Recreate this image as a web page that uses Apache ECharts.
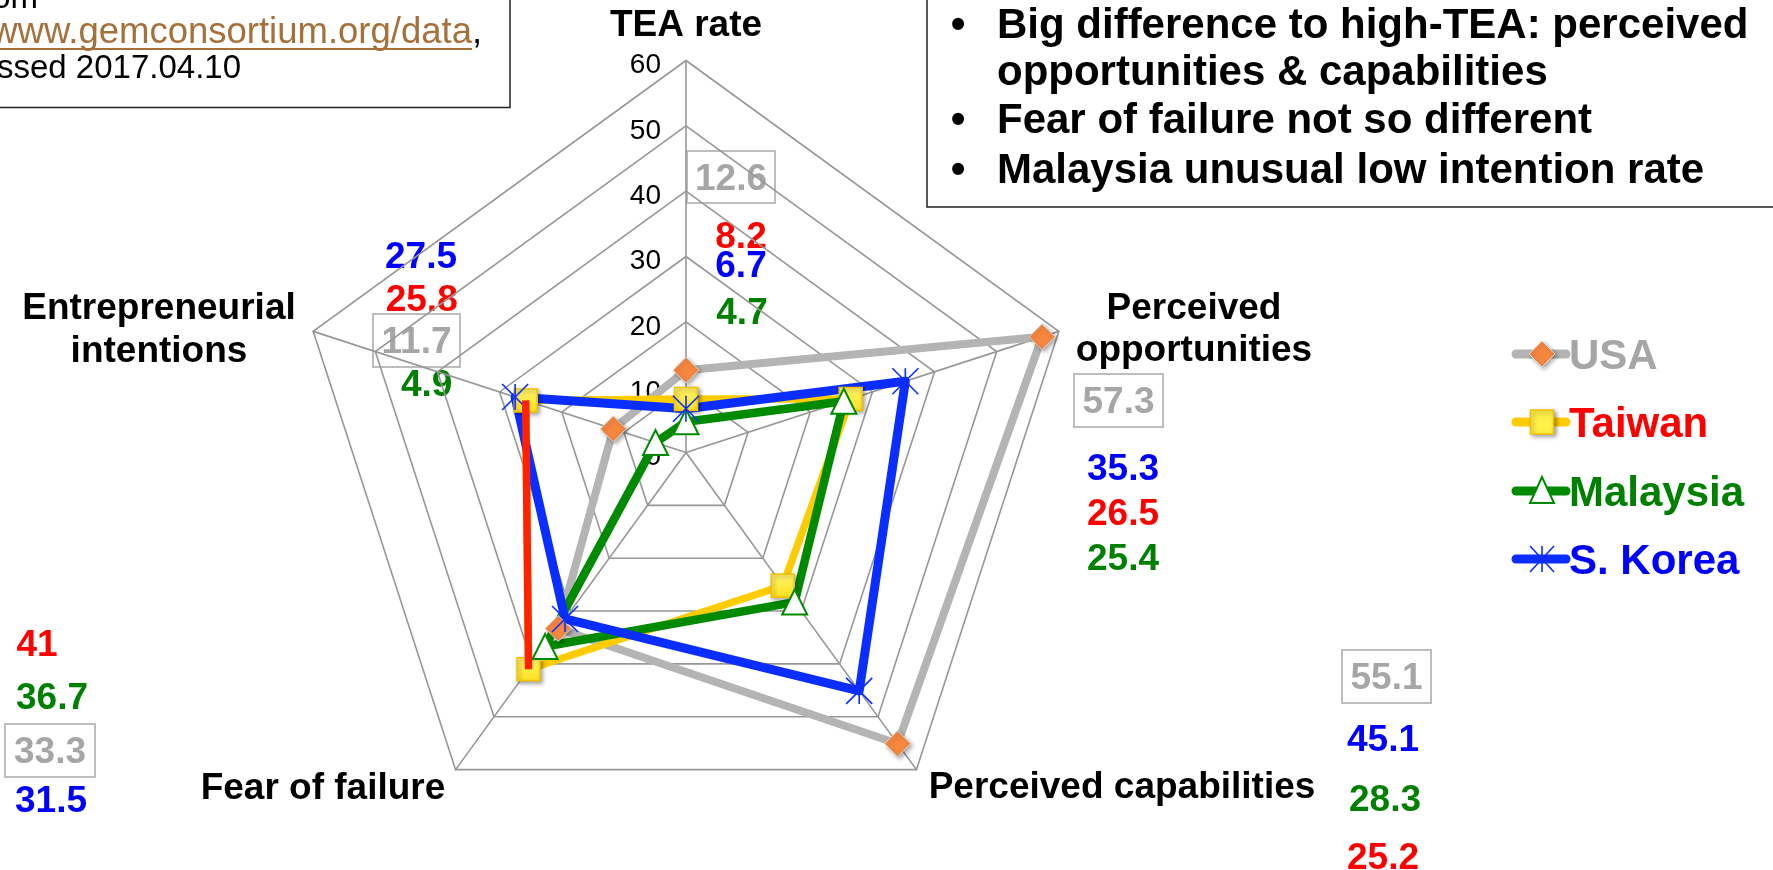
<!DOCTYPE html>
<html>
<head>
<meta charset="utf-8">
<script src="https://cdn.jsdelivr.net/npm/echarts@6/dist/echarts.min.js"></script>
<style>
  html, body { margin: 0; padding: 0; background: #ffffff; }
  #chart { width: 1773px; height: 870px; }
</style>
</head>
<body>
<div id="chart"></div>
<script>
// Dimensions, listed clockwise from the top spoke
const axisNames = ['TEA rate', 'Perceived opportunities', 'Perceived capabilities', 'Fear of failure', 'Entrepreneurial intentions'];
const countries = ['USA', 'Taiwan', 'Malaysia', 'S. Korea'];
const usa      = [12.6, 57.3, 55.1, 33.3, 11.7];
const taiwan   = [8.2, 26.5, 25.2, 41, 25.8];
const malaysia = [4.7, 25.4, 28.3, 36.7, 4.9];
const korea    = [6.7, 35.3, 45.1, 31.5, 27.5];
const ringTicks = [0, 10, 20, 30, 40, 50, 60];
const notes = ['Big difference to high-TEA: perceived', 'opportunities & capabilities',
               'Fear of failure not so different', 'Malaysia unusual low intention rate'];

const FONT = '"Liberation Sans", Arial, Helvetica, sans-serif';
const CX = 686, CY = 452.5, R = 392;
const AX_MAX = ringTicks[ringTicks.length - 1];

// ECharts lays radar indicators out counter-clockwise; reorder the clockwise lists
const ccw = [0, 4, 3, 2, 1];
const toRadar = arr => ccw.map(i => arr[i]);
const spokeAngle = i => i * 360 / axisNames.length;   // clockwise degrees from the top

const styles = {
  USA:       { line: '#B4B4B4', text: '#A6A6A6' },
  Taiwan:    { line: '#FFCC00', text: '#FF0000' },
  Malaysia:  { line: '#008A00', text: '#008000' },
  'S. Korea':{ line: '#0A2EFF', text: '#0000FF' }
};
const markShadow = { shadowBlur: 4, shadowColor: 'rgba(0,0,0,0.35)', shadowOffsetX: 2, shadowOffsetY: 2 };

function radarSeries(name, values, lineWidth, symbol, symbolSize, itemStyle) {
  return {
    type: 'radar', name: name, radarIndex: 0, silent: true,
    symbol: symbol, symbolSize: symbolSize,
    lineStyle: { color: styles[name].line, width: lineWidth, join: 'round' },
    itemStyle: itemStyle,
    areaStyle: null,
    data: [{ value: toRadar(values), name: name }]
  };
}

// ---------- text helpers ----------
// y is the centre of the capital letters; 'middle' alignment sits a little high, hence the nudge
function txt(str, x, y, size, color, weight, align) {
  return {
    type: 'text', x: x, y: y + size * 0.09, silent: true,
    style: {
      text: str, fill: color, fontSize: size, fontWeight: weight || 'normal', fontFamily: FONT,
      align: align || 'center', textAlign: align || 'center',
      verticalAlign: 'middle', textVerticalAlign: 'middle'
    }
  };
}
function boxedValue(v, x0, y0, x1, y1) {
  return [
    { type: 'rect', silent: true, shape: { x: x0, y: y0, width: x1 - x0, height: y1 - y0 },
      style: { fill: 'none', stroke: '#BDBDBD', lineWidth: 2 } },
    txt(String(v), (x0 + x1) / 2, (y0 + y1) / 2 - 1, 37, styles.USA.text, 'bold')
  ];
}
const val = (v, x, y, who) => txt(String(v), x, y, 37, styles[who].text, 'bold');

const g = [];

// source box, top left
g.push({ type: 'rect', silent: true, shape: { x: -20, y: -20, width: 530, height: 127.5 },
         style: { fill: '#fff', stroke: '#222', lineWidth: 1.5 } });
g.push(txt('Data from', 38, -4, 33, '#000', 'normal', 'right'));
g.push(txt('http://www.gemconsortium.org/data', 472, 30, 36.5, '#A6703A', 'normal', 'right'));
g.push({ type: 'line', silent: true, shape: { x1: 0, y1: 49, x2: 472, y2: 49 },
         style: { stroke: '#A6703A', lineWidth: 2 } });
g.push(txt(',', 472, 30, 36.5, '#000', 'normal', 'left'));
g.push(txt('Accessed 2017.04.10', 241, 66, 33, '#000', 'normal', 'right'));

// notes box, top right
g.push({ type: 'rect', silent: true, shape: { x: 927, y: -20, width: 900, height: 227 },
         style: { fill: '#fff', stroke: '#222', lineWidth: 1.5 } });
const noteY = [23, 70, 118, 168];
notes.forEach((n, i) => {
  g.push(txt(n, 997, noteY[i], 42, '#000', 'bold', 'left'));
});
[0, 2, 3].forEach(i => g.push(txt('\u2022', 958, noteY[i], 42, '#000', 'bold', 'center')));

// spoke titles
g.push(txt(axisNames[0], 686, 22.5, 37, '#000', 'bold'));
g.push(txt('Perceived', 1194, 305, 37, '#000', 'bold'));
g.push(txt('opportunities', 1194, 347, 37, '#000', 'bold'));
g.push(txt(axisNames[2], 1122, 784, 37, '#000', 'bold'));
g.push(txt(axisNames[3], 323, 785, 37, '#000', 'bold'));
g.push(txt('Entrepreneurial', 159, 305, 37, '#000', 'bold'));
g.push(txt('intentions', 159, 348, 37, '#000', 'bold'));

// value call-outs for each spoke
// TEA rate
g.push(...boxedValue(usa[0], 687, 151, 775, 203));
g.push(val(taiwan[0], 741, 234, 'Taiwan'));
g.push(val(korea[0], 741, 263.5, 'S. Korea'));
g.push(val(malaysia[0], 742, 310, 'Malaysia'));
// Perceived opportunities
g.push(...boxedValue(usa[1], 1074, 374, 1163, 427));
g.push(val(korea[1], 1123, 466, 'S. Korea'));
g.push(val(taiwan[1], 1123, 511, 'Taiwan'));
g.push(val(malaysia[1], 1123, 556, 'Malaysia'));
// Perceived capabilities
g.push(...boxedValue(usa[2], 1342, 650, 1431, 703));
g.push(val(korea[2], 1383, 737, 'S. Korea'));
g.push(val(malaysia[2], 1385, 797, 'Malaysia'));
g.push(val(taiwan[2], 1383, 855, 'Taiwan'));
// Fear of failure
g.push(val(taiwan[3], 37, 642, 'Taiwan'));
g.push(val(malaysia[3], 52, 695, 'Malaysia'));
g.push(...boxedValue(usa[3], 5, 724, 95, 777));
g.push(val(korea[3], 51, 798.5, 'S. Korea'));
// Entrepreneurial intentions
g.push(val(korea[4], 421, 254, 'S. Korea'));
g.push(val(taiwan[4], 421.7, 297, 'Taiwan'));
g.push(...boxedValue(usa[4], 373, 314, 460, 367));
g.push(val(malaysia[4], 426.7, 382, 'Malaysia'));

// legend
const legY = [354, 422, 491, 559];
const LX0 = 1516, LX1 = 1566, LMX = 1542;
countries.forEach((c, i) => {
  const y = legY[i];
  g.push({ type: 'line', silent: true, shape: { x1: LX0, y1: y, x2: LX1, y2: y },
           style: { stroke: styles[c].line, lineWidth: 9, lineCap: 'round' } });
  g.push(txt(c, 1569, y, 42, styles[c].text, 'bold', 'left'));
});
g.push({ type: 'polygon', silent: true,
         shape: { points: [[LMX, legY[0] - 13], [LMX + 13, legY[0]], [LMX, legY[0] + 13], [LMX - 13, legY[0]]] },
         style: Object.assign({ fill: '#F7873F', stroke: '#D9D9D9', lineWidth: 1 }, markShadow) });
g.push({ type: 'rect', silent: true, shape: { x: LMX - 11.5, y: legY[1] - 12, width: 23, height: 24 },
         style: Object.assign({ fill: '#FFF04A', stroke: '#F2C200', lineWidth: 1.5 }, markShadow) });
g.push({ type: 'polygon', silent: true,
         shape: { points: [[LMX, legY[2] - 14], [LMX + 12, legY[2] + 12], [LMX - 12, legY[2] + 12]] },
         style: { fill: '#ffffff', stroke: '#008A00', lineWidth: 2 } });
[[[-12, -13], [12, 13]], [[12, -13], [-12, 13]], [[0, -13], [0, 13]]].forEach(s => {
  g.push({ type: 'line', silent: true,
           shape: { x1: LMX + s[0][0], y1: legY[3] + s[0][1], x2: LMX + s[1][0], y2: legY[3] + s[1][1] },
           style: { stroke: '#0A2EFF', lineWidth: 1.6 } });
});

// ring values are printed along the top spoke only
const indicator = ccw.map((i, k) => {
  const ind = { name: axisNames[i], min: ringTicks[0], max: AX_MAX };
  if (k === 0) {
    ind.axisLabel = {
      show: true, margin: 25,
      formatter: '{v|{value}}',
      rich: { v: { color: '#000', fontSize: 28, fontFamily: FONT, padding: [10, 0, 0, 0] } }
    };
  }
  return ind;
});

const option = {
  animation: false,
  backgroundColor: '#ffffff',
  radar: {
    center: [CX, CY], radius: R, startAngle: 90, shape: 'polygon',
    splitNumber: ringTicks.length - 1,
    axisName: { show: false },
    splitLine: { lineStyle: { color: '#979797', width: 1.6 } },
    splitArea: { show: false },
    axisLine: { lineStyle: { color: '#979797', width: 1.6 } },
    axisTick: { show: false },
    axisLabel: { show: false },
    indicator: indicator
  },
  // polar frame sharing the radar's centre and radius, used for the single red Taiwan edge
  polar: { center: [CX, CY], radius: R },
  angleAxis: { type: 'value', min: 0, max: 360, startAngle: 90, clockwise: true, show: false,
               splitLine: { show: false }, axisLine: { show: false }, axisLabel: { show: false } },
  radiusAxis: { type: 'value', min: 0, max: AX_MAX, show: false,
                splitLine: { show: false }, axisLine: { show: false }, axisLabel: { show: false } },
  series: [
    radarSeries('USA', usa, 8, 'diamond', 26,
      Object.assign({ color: '#F7873F', borderColor: '#D9D9D9', borderWidth: 1 }, markShadow)),
    radarSeries('Taiwan', taiwan, 7.5, 'rect', 23,
      Object.assign({
        color: { type: 'linear', x: 0, y: 0, x2: 0, y2: 1,
                 colorStops: [{ offset: 0, color: '#FFF46E' }, { offset: 1, color: '#FFE21C' }] },
        borderColor: '#F2C200', borderWidth: 1.5 }, markShadow)),
    {
      type: 'line', name: 'Taiwan edge', coordinateSystem: 'polar', polarIndex: 0, silent: true,
      symbol: 'none',
      lineStyle: { color: '#FF2200', width: 7.5 },
      data: [[taiwan[4], spokeAngle(4)], [taiwan[3], spokeAngle(3)]]
    },
    radarSeries('Malaysia', malaysia, 8.5, 'triangle', 25,
      { color: '#ffffff', borderColor: '#008A00', borderWidth: 2 }),
    radarSeries('S. Korea', korea, 9, 'path://M0,0L20,20M20,0L0,20M10,0L10,20', 26,
      { color: 'rgba(0,0,0,0)', borderColor: '#0A2EFF', borderWidth: 1.6 })
  ],
  graphic: { elements: g }
};

const chart = echarts.init(document.getElementById('chart'), null, { renderer: 'canvas' });
chart.setOption(option);
</script>
</body>
</html>
